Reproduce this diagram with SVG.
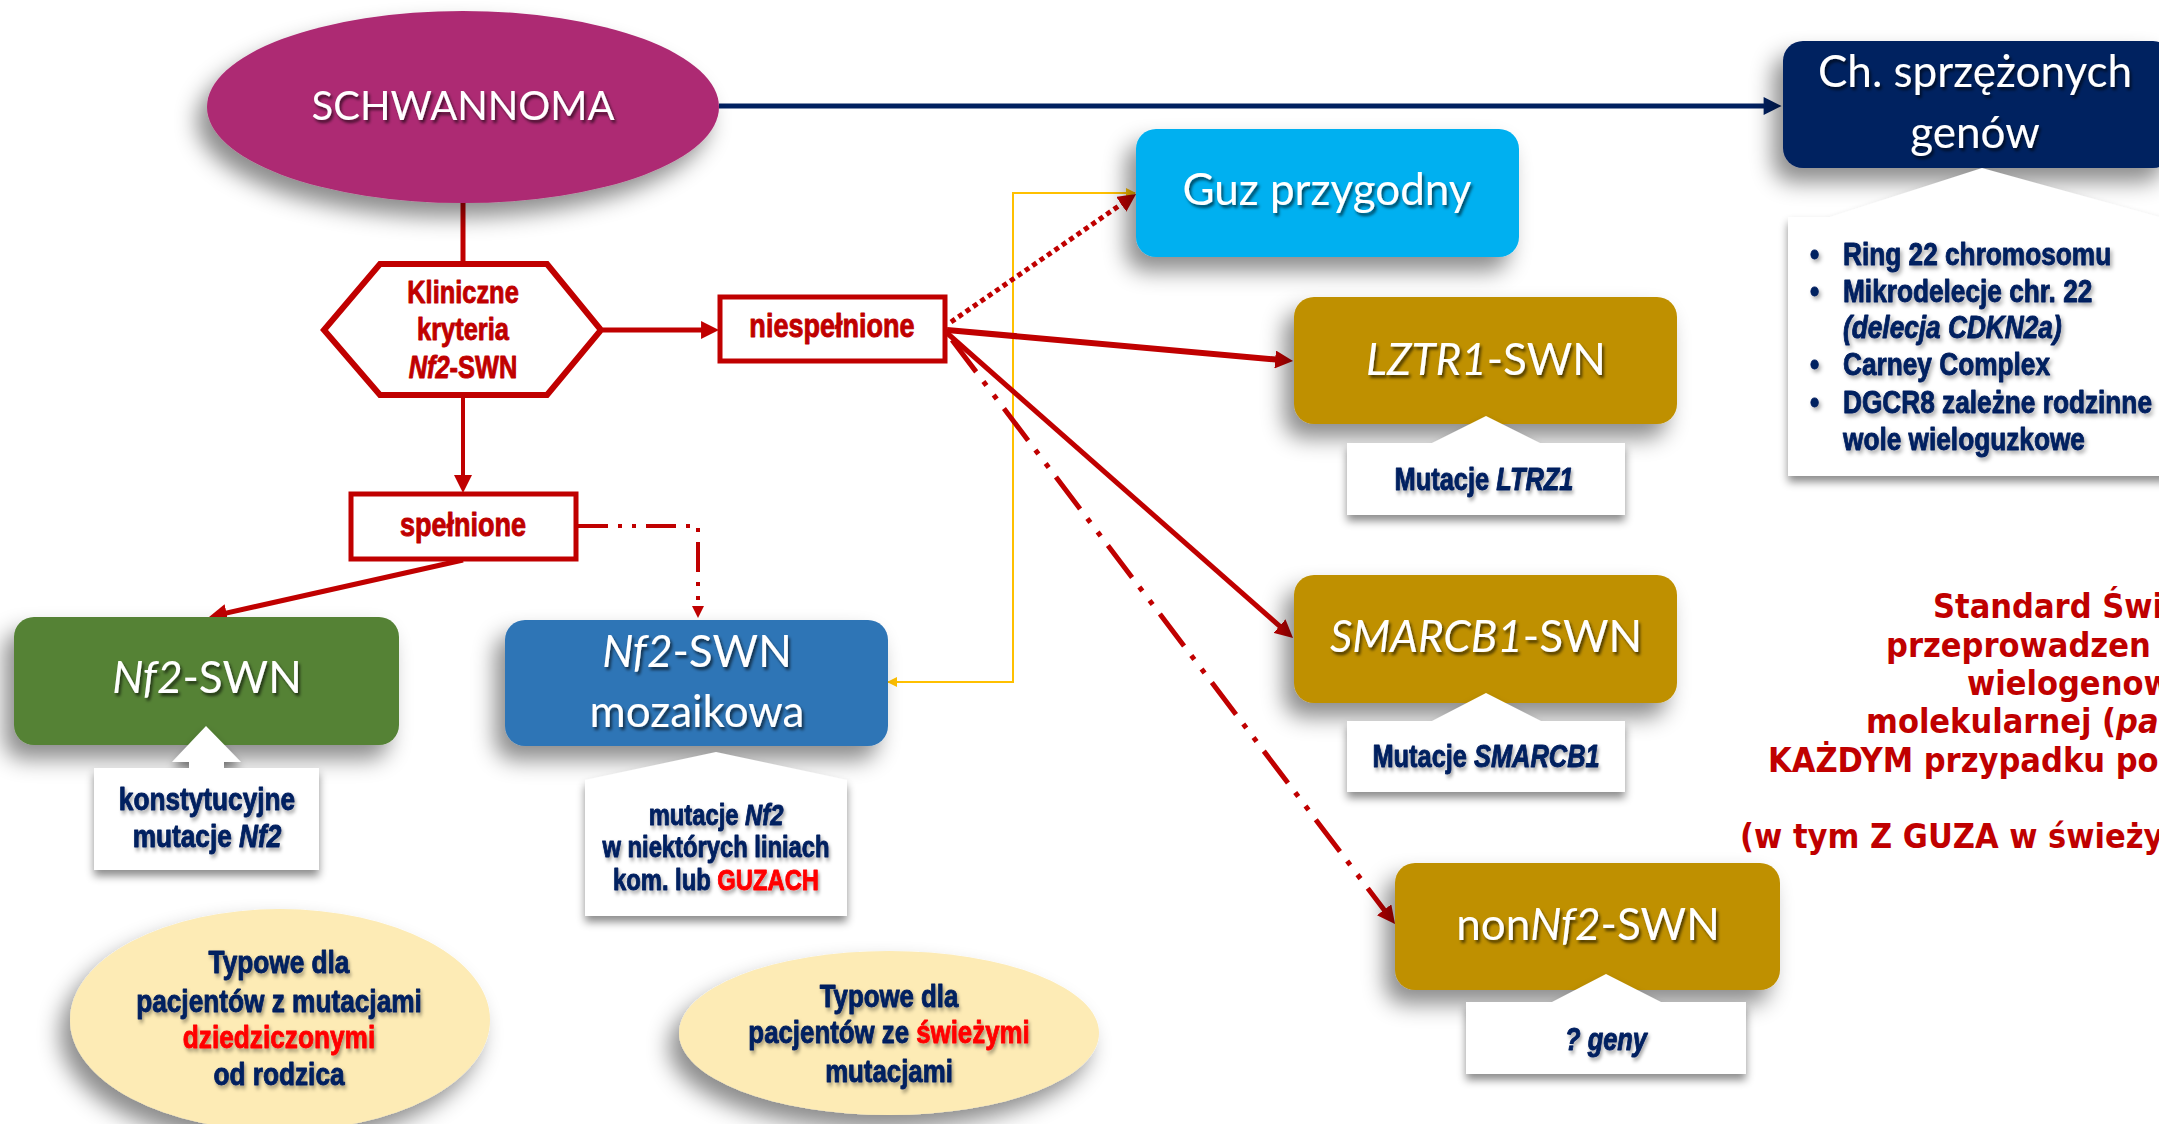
<svg xmlns="http://www.w3.org/2000/svg" width="2159" height="1124" viewBox="0 0 2159 1124">
<style>
.title{font-family:Lato,"Open Sans",sans-serif;fill:#fff;text-anchor:middle;filter:url(#tsh)}
.nb{font-family:"Liberation Sans",Arial,sans-serif;font-weight:bold;text-anchor:middle;stroke-width:0.9px;stroke-linejoin:round}
.navy{fill:#002060;stroke:#002060;filter:url(#nsh)}
.red{fill:#C00000;stroke:#C00000}
.hl{fill:#FF0000;stroke:#FF0000}
.it{font-style:italic}
.lbl{fill:#fff;stroke:#C00000;stroke-width:5}
.box{filter:url(#sh)}
.call{fill:#fff;filter:url(#csh)}
.conn{fill:none;stroke:#C00000}
.std{font-family:"DejaVu Sans Condensed","DejaVu Sans",sans-serif;font-weight:bold;font-size:34px;fill:#C00000}
</style>
<defs>
<filter id="sh" x="-40%" y="-40%" width="180%" height="190%">
<feDropShadow dx="-10" dy="14" stdDeviation="11" flood-color="#000" flood-opacity="0.45"/>
</filter>
<filter id="csh" x="-30%" y="-30%" width="160%" height="170%">
<feDropShadow dx="0" dy="6" stdDeviation="4" flood-color="#000" flood-opacity="0.45"/>
</filter>
<filter id="tsh" x="-20%" y="-50%" width="140%" height="200%">
<feDropShadow dx="2" dy="3" stdDeviation="1.6" flood-color="#000" flood-opacity="0.6"/>
</filter>
<filter id="nsh" x="-20%" y="-50%" width="140%" height="200%">
<feDropShadow dx="2" dy="3" stdDeviation="2" flood-color="#000" flood-opacity="0.35"/>
</filter>
<marker id="ar" viewBox="0 0 10 10" markerUnits="userSpaceOnUse" markerWidth="18" markerHeight="18" refX="2.2" refY="5" orient="auto">
<path d="M0,0 L10,5 L0,10 z" fill="#C00000"/>
</marker>
<marker id="ars" viewBox="0 0 10 10" markerUnits="userSpaceOnUse" markerWidth="12" markerHeight="12" refX="1.7" refY="5" orient="auto">
<path d="M0,0 L10,5 L0,10 z" fill="#C00000"/>
</marker>
<marker id="an" viewBox="0 0 10 10" markerUnits="userSpaceOnUse" markerWidth="20" markerHeight="18" refX="3" refY="5" orient="auto">
<path d="M0,0 L10,5 L0,10 z" fill="#002060"/>
</marker>
<marker id="ay" viewBox="0 0 10 10" markerUnits="userSpaceOnUse" markerWidth="10" markerHeight="10" refX="9" refY="5" orient="auto-start-reverse">
<path d="M0,0 L10,5 L0,10 z" fill="#FFC000"/>
</marker>
</defs>
<rect width="2159" height="1124" fill="#fff"/>

<g id="connectors">
<line x1="719" y1="106" x2="1769" y2="106" stroke="#002060" stroke-width="5" marker-end="url(#an)"/>
<line class="conn" x1="463" y1="203" x2="463" y2="264" stroke-width="5"/>
<line class="conn" x1="603" y1="330" x2="705" y2="330" stroke-width="5" marker-end="url(#ar)"/>
<line class="conn" x1="463" y1="398" x2="463" y2="479" stroke-width="4" marker-end="url(#ar)"/>
<line class="conn" x1="463" y1="560" x2="222.7" y2="613.9" stroke-width="5" marker-end="url(#ar)"/>
<path class="conn" d="M578,526 H698 V608" stroke-width="4" stroke-dasharray="30 10 4 10 4 10" marker-end="url(#ars)"/>
<path d="M888,682 H1013 V193 H1135" fill="none" stroke="#FFC000" stroke-width="2" marker-start="url(#ay)" marker-end="url(#ay)"/>
<line class="conn" x1="951" y1="322" x2="1124.5" y2="202" stroke-width="5" stroke-dasharray="5 4" marker-end="url(#ar)"/>
<line class="conn" x1="947" y1="330" x2="1279.1" y2="359.8" stroke-width="6" marker-end="url(#ar)"/>
<line class="conn" x1="947" y1="333" x2="1282.5" y2="628.7" stroke-width="5" marker-end="url(#ar)"/>
<line class="conn" x1="952" y1="340" x2="1386.5" y2="912.9" stroke-width="5" stroke-dasharray="40 12 5 12 5 12" marker-end="url(#ar)"/>
</g>

<g id="schwannoma">
<ellipse class="box" cx="463" cy="107" rx="256" ry="96" fill="#AD2A73"/>
<text class="title" x="463" y="120" font-size="40">SCHWANNOMA</text>
</g>

<g id="kryteria">
<polygon points="324,330 380,264 547,264 601,330 547,395 380,395" fill="#fff" stroke="#C00000" stroke-width="6" stroke-linejoin="miter"/>
<text class="nb red" font-size="31" transform="translate(463,303) scale(0.82,1)">Kliniczne</text>
<text class="nb red" font-size="31" transform="translate(463,340) scale(0.82,1)">kryteria</text>
<text class="nb red" font-size="31" transform="translate(463,378) scale(0.82,1)"><tspan class="it">Nf2</tspan>-SWN</text>
</g>

<g id="niespelnione">
<rect class="lbl" x="720" y="297" width="225" height="64"/>
<text class="nb red" font-size="33" transform="translate(832,337) scale(0.82,1)">niespełnione</text>
</g>

<g id="spelnione">
<rect class="lbl" x="351" y="494" width="225" height="65"/>
<text class="nb red" font-size="33" transform="translate(463,536) scale(0.82,1)">spełnione</text>
</g>

<g id="ch-sprzezonych">
<rect class="box" x="1783" y="41" width="390" height="127" rx="20" fill="#002060"/>
<text class="title" x="1975" y="87" font-size="44">Ch. sprzężonych</text>
<text class="title" x="1975" y="148" font-size="44">genów</text>
<polygon class="call" points="1788,217 1830,217 1982,168 2159,217 2175,217 2175,476 1788,476"/>
<g class="nb navy" font-size="32" style="text-anchor:start">
<text transform="translate(1810,265) scale(0.82,1)">•</text>
<text transform="translate(1843,265) scale(0.82,1)">Ring 22 chromosomu</text>
<text transform="translate(1810,302) scale(0.82,1)">•</text>
<text transform="translate(1843,302) scale(0.82,1)">Mikrodelecje chr. 22</text>
<text class="it" transform="translate(1843,338) scale(0.82,1)">(delecja CDKN2a)</text>
<text transform="translate(1810,375) scale(0.82,1)">•</text>
<text transform="translate(1843,375) scale(0.82,1)">Carney Complex</text>
<text transform="translate(1810,413) scale(0.82,1)">•</text>
<text transform="translate(1843,413) scale(0.82,1)">DGCR8 zależne rodzinne</text>
<text transform="translate(1843,450) scale(0.82,1)">wole wieloguzkowe</text>
</g>
</g>

<g id="guz-przygodny">
<rect class="box" x="1136" y="129" width="383" height="128" rx="20" fill="#00B0F0"/>
<text class="title" x="1327" y="205" font-size="44">Guz przygodny</text>
</g>

<g id="lztr1">
<rect class="box" x="1294" y="297" width="383" height="127" rx="20" fill="#BF9000"/>
<text class="title" x="1486" y="375" font-size="44"><tspan class="it">LZTR1</tspan>-SWN</text>
<polygon class="call" points="1347,443 1432,443 1486,416 1540,443 1625,443 1625,515 1347,515"/>
<text class="nb navy" font-size="31" transform="translate(1484,490) scale(0.82,1)">Mutacje <tspan class="it">LTRZ1</tspan></text>
</g>

<g id="smarcb1">
<rect class="box" x="1294" y="575" width="383" height="128" rx="20" fill="#BF9000"/>
<text class="title" x="1486" y="652" font-size="44"><tspan class="it">SMARCB1</tspan>-SWN</text>
<polygon class="call" points="1347,721 1432,721 1486,693 1541,721 1625,721 1625,792 1347,792"/>
<text class="nb navy" font-size="31" transform="translate(1486,767) scale(0.82,1)">Mutacje <tspan class="it">SMARCB1</tspan></text>
</g>

<g id="nonnf2">
<rect class="box" x="1395" y="863" width="385" height="127" rx="20" fill="#BF9000"/>
<text class="title" x="1588" y="940" font-size="44">non<tspan class="it">Nf2</tspan>-SWN</text>
<polygon class="call" points="1466,1002 1552,1002 1606,974 1661,1002 1746,1002 1746,1074 1466,1074"/>
<text class="nb navy it" font-size="31" transform="translate(1606,1050) scale(0.82,1)">? geny</text>
</g>

<g id="nf2-swn">
<rect class="box" x="14" y="617" width="385" height="128" rx="20" fill="#548235"/>
<text class="title" x="207" y="693" font-size="44"><tspan class="it">Nf2</tspan>-SWN</text>
<polygon class="call" points="94,768 189,768 189,762 172,762 206,726 241,762 224,762 224,768 319,768 319,870 94,870"/>
<text class="nb navy" font-size="32" transform="translate(207,810) scale(0.82,1)">konstytucyjne</text>
<text class="nb navy" font-size="32" transform="translate(207,847) scale(0.82,1)">mutacje <tspan class="it">Nf2</tspan></text>
</g>

<g id="nf2-mozaikowa">
<rect class="box" x="505" y="620" width="383" height="126" rx="20" fill="#2E75B6"/>
<text class="title" x="697" y="667" font-size="44"><tspan class="it">Nf2</tspan>-SWN</text>
<text class="title" x="697" y="727" font-size="44">mozaikowa</text>
<polygon class="call" points="585,780 716,752 847,780 847,916 585,916"/>
<text class="nb navy" font-size="29" transform="translate(716,825) scale(0.82,1)">mutacje <tspan class="it">Nf2</tspan></text>
<text class="nb navy" font-size="29" transform="translate(716,857) scale(0.82,1)">w niektórych liniach</text>
<text class="nb navy" font-size="29" transform="translate(716,890) scale(0.82,1)">kom. lub <tspan class="hl">GUZACH</tspan></text>
</g>

<g id="typowe-dziedziczone">
<ellipse class="box" cx="280" cy="1020" rx="210" ry="111" fill="#FDEBB5"/>
<text class="nb navy" font-size="32" transform="translate(279,973) scale(0.82,1)">Typowe dla</text>
<text class="nb navy" font-size="32" transform="translate(279,1012) scale(0.82,1)">pacjentów z mutacjami</text>
<text class="nb navy" font-size="32" transform="translate(279,1048) scale(0.82,1)"><tspan class="hl">dziedziczonymi</tspan></text>
<text class="nb navy" font-size="32" transform="translate(279,1085) scale(0.82,1)">od rodzica</text>
</g>

<g id="typowe-swieze">
<ellipse class="box" cx="889" cy="1033" rx="210" ry="82" fill="#FDEBB5"/>
<text class="nb navy" font-size="31.5" transform="translate(889,1007) scale(0.82,1)">Typowe dla</text>
<text class="nb navy" font-size="31.5" transform="translate(889,1043) scale(0.82,1)">pacjentów ze <tspan class="hl">świeżymi</tspan></text>
<text class="nb navy" font-size="31.5" transform="translate(889,1082) scale(0.82,1)">mutacjami</text>
</g>

<g id="standard-text">
<text class="std" x="1933" y="618">Standard Świ</text>
<text class="std" x="1886" y="657">przeprowadzen</text>
<text class="std" x="1967" y="695">wielogenow</text>
<text class="std" x="1866" y="733">molekularnej (<tspan font-style="italic">pa</tspan></text>
<text class="std" x="1768" y="772">KAŻDYM przypadku po</text>
<text class="std" x="1740" y="848">(w tym Z GUZA w świeży</text>
</g>
</svg>
